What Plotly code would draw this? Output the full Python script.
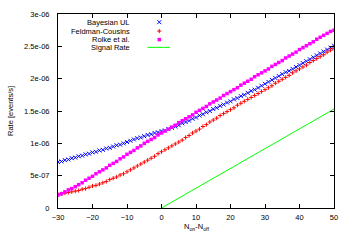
import plotly.graph_objects as go

# x values: N_on - N_off
n_diff = list(range(-30, 51))

# Rates in units of 1e-6 events/s
bayesian_ul = [
    0.71, 0.72, 0.74, 0.75, 0.77, 0.78, 0.80,
    0.81, 0.83, 0.84, 0.86, 0.87, 0.89, 0.90, 0.92, 0.93, 0.95,
    0.97, 0.98, 1.00, 1.02, 1.04, 1.06, 1.08, 1.09, 1.11, 1.13,
    1.14, 1.16, 1.17, 1.19, 1.20, 1.22,
    1.24, 1.26, 1.28, 1.31, 1.33, 1.35,
    1.38, 1.40, 1.43, 1.45, 1.48, 1.50, 1.53, 1.55, 1.58, 1.60, 1.63, 1.65,
    1.68, 1.70, 1.73, 1.75, 1.78, 1.81, 1.83, 1.86,
    1.89, 1.92, 1.95, 1.98, 2.01, 2.04, 2.07, 2.10, 2.12, 2.15, 2.18,
    2.21, 2.24, 2.27, 2.30, 2.33, 2.36, 2.39, 2.42, 2.45, 2.48, 2.51,
]
feldman_cousins = [
    0.21, 0.22, 0.23, 0.24, 0.25, 0.26, 0.27, 0.29, 0.30, 0.32,
    0.34, 0.35, 0.37, 0.39, 0.41, 0.44, 0.46, 0.48, 0.51, 0.53,
    0.56, 0.59, 0.62, 0.65, 0.68, 0.71, 0.74,
    0.77, 0.80, 0.84,
    0.87, 0.90, 0.93, 0.96, 0.99, 1.02, 1.05, 1.09, 1.12, 1.16, 1.19,
    1.22, 1.26, 1.29, 1.33, 1.36, 1.39, 1.43, 1.46, 1.49, 1.52,
    1.55, 1.59, 1.62, 1.65, 1.68, 1.71, 1.74, 1.77, 1.80, 1.83,
    1.86, 1.89, 1.93, 1.96, 1.99, 2.02, 2.05, 2.09, 2.12, 2.15,
    2.18, 2.21, 2.25, 2.28, 2.31, 2.34, 2.37, 2.41, 2.44, 2.47,
]
rolke = [
    0.20, 0.22, 0.25, 0.28, 0.30, 0.33, 0.36,
    0.39, 0.43, 0.46, 0.49, 0.53, 0.56, 0.59, 0.62, 0.66, 0.69,
    0.72, 0.76, 0.79, 0.83, 0.86, 0.89, 0.93, 0.96, 1.00, 1.03,
    1.06, 1.09, 1.13, 1.16, 1.19, 1.22,
    1.25, 1.28, 1.32, 1.35, 1.38, 1.41, 1.44, 1.48, 1.51, 1.54,
    1.57, 1.61, 1.64, 1.67, 1.70, 1.74, 1.77, 1.80, 1.83, 1.86,
    1.90, 1.93, 1.96, 1.99, 2.03, 2.06, 2.09, 2.12, 2.15, 2.19,
    2.22, 2.25, 2.28, 2.32, 2.35, 2.38, 2.41, 2.45, 2.48, 2.51,
    2.54, 2.57, 2.61, 2.64, 2.67, 2.70, 2.73, 2.75,
]
signal_x = [0, 50]
signal_rate = [0.0, 1.53]

series_names = ["Bayesian UL", "Feldman-Cousins", "Rolke et al.", "Signal Rate"]
y_tick_vals = [0, 0.5e-6, 1e-6, 1.5e-6, 2e-6, 2.5e-6, 3e-6]
y_tick_text = ["0", "5e-07", "1e-06", "1.5e-06", "2e-06", "2.5e-06", "3e-06"]
x_tick_vals = [-30, -20, -10, 0, 10, 20, 30, 40, 50]

scale = 1e-6
FONT = "Liberation Sans, Arial, sans-serif"
FS = 7.5

BLUE_M = dict(symbol="x-thin-open", size=4, color="#0000ff", line=dict(width=1, color="#0000ff"))
RED_M = dict(symbol="cross-thin-open", size=3, color="#ff0000", line=dict(width=1, color="#ff0000"))
MAG_M = dict(symbol="square", size=3.5, color="#ff00ff", line=dict(width=0))

fig = go.Figure()
fig.add_trace(go.Scatter(x=n_diff, y=[v * scale for v in bayesian_ul], mode="markers",
                         name=series_names[0], marker=BLUE_M))
fig.add_trace(go.Scatter(x=n_diff, y=[v * scale for v in feldman_cousins], mode="markers",
                         name=series_names[1], marker=RED_M))
fig.add_trace(go.Scatter(x=n_diff, y=[v * scale for v in rolke], mode="markers",
                         name=series_names[2], marker=MAG_M))
fig.add_trace(go.Scatter(x=signal_x, y=[v * scale for v in signal_rate], mode="lines",
                         name=series_names[3], line=dict(color="#00ff00", width=1)))

# custom gnuplot-style legend (text right-aligned, key sample to the right)
rows_y = [0.958, 0.912, 0.868, 0.828]
text_x = 0.267
key_x = 0.367
for i, st in enumerate([BLUE_M, RED_M, MAG_M]):
    fig.add_trace(go.Scatter(x=[key_x], y=[rows_y[i]], mode="markers", marker=st,
                             xaxis="x2", yaxis="y2", showlegend=False, hoverinfo="skip"))
fig.add_shape(type="line", xref="paper", yref="paper", x0=0.324, x1=0.406,
              y0=rows_y[3], y1=rows_y[3], line=dict(color="#00ff00", width=1))
for i, name in enumerate(series_names):
    fig.add_annotation(x=text_x, y=rows_y[i], xref="paper", yref="paper", text=name,
                       showarrow=False, xanchor="right", yanchor="middle",
                       font=dict(family=FONT, size=FS, color="#000000"))

# axis titles
fig.add_annotation(x=-0.174, y=0.5, xref="paper", yref="paper", text="Rate [events/s]",
                   textangle=-90, showarrow=False, xanchor="center", yanchor="middle",
                   font=dict(family=FONT, size=FS, color="#000000"))
fig.add_annotation(x=0.5, y=-0.10, xref="paper", yref="paper", text="N<sub>on</sub>-N<sub>off</sub>",
                   showarrow=False, xanchor="center", yanchor="middle",
                   font=dict(family=FONT, size=FS, color="#000000"))

axis_common = dict(showgrid=False, zeroline=False, showline=True, linecolor="#000000",
                   linewidth=1, mirror="ticks", ticks="inside", ticklen=4, tickwidth=1,
                   tickcolor="#000000", tickfont=dict(family=FONT, size=FS, color="#000000"))
fig.update_layout(
    width=350, height=245, autosize=False,
    margin=dict(l=58, r=16, t=10, b=37, pad=0),
    paper_bgcolor="#ffffff", plot_bgcolor="#ffffff",
    showlegend=False,
    xaxis=dict(range=[-30, 50], tickvals=x_tick_vals, ticklabelstandoff=2, **axis_common),
    yaxis=dict(range=[0, 3e-6], tickvals=y_tick_vals, ticktext=y_tick_text,
               ticklabelstandoff=6, **axis_common),
    xaxis2=dict(range=[0, 1], overlaying="x", visible=False),
    yaxis2=dict(range=[0, 1], overlaying="y", visible=False),
)
fig.write_html("out.html", config={"displayModeBar": False},
               post_script="document.body.style.margin='0';")
